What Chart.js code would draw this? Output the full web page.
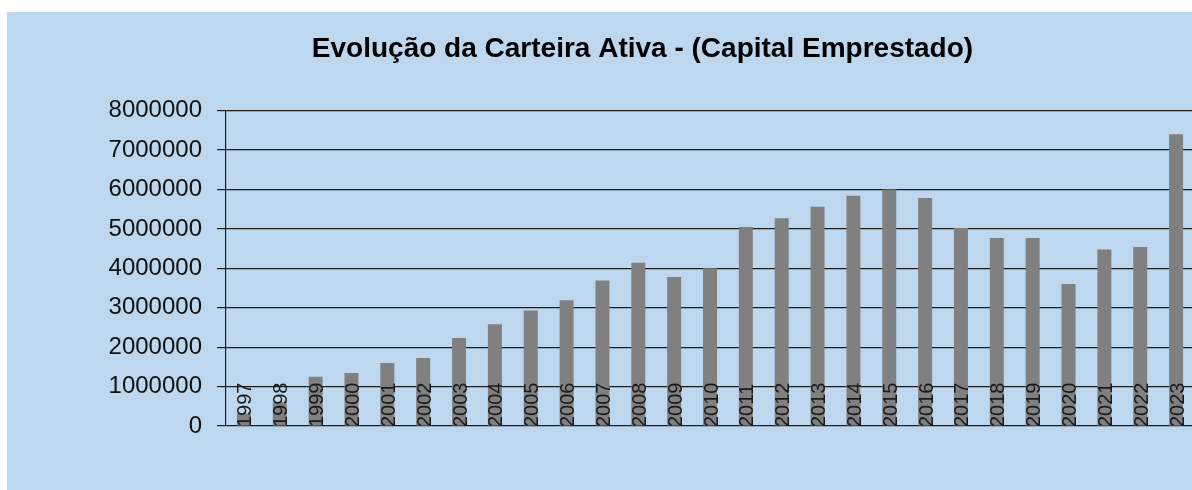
<!DOCTYPE html>
<html>
<head>
<meta charset="utf-8">
<title>Evolução da Carteira Ativa</title>
<script src="https://cdn.jsdelivr.net/npm/chart.js@4.4.1/dist/chart.umd.min.js"></script>
<style>
    html, body { margin: 0; padding: 0; background: #ffffff; overflow: hidden; }
    #wrap {
        position: absolute;
        left: 7px;
        top: 12px;
        width: 1195px;
        height: 478px;
        background: #bdd7ee;
    }
</style>
</head>
<body>
<div id="wrap"><canvas id="carteiraChart"></canvas></div>
<script>
// Data
const years = ['1997', '1998', '1999', '2000', '2001', '2002', '2003', '2004', '2005',
    '2006', '2007', '2008', '2009', '2010', '2011', '2012', '2013', '2014', '2015',
    '2016', '2017', '2018', '2019', '2020', '2021', '2022', '2023'];
const capitalEmprestado = [320000, 600000, 1250000, 1345000, 1600000, 1725000, 2230000,
    2580000, 2930000, 3190000, 3690000, 4140000, 3780000, 4000000, 5050000, 5270000,
    5560000, 5840000, 6000000, 5780000, 5020000, 4770000, 4770000, 3600000, 4480000,
    4540000, 7400000];
const yMin = 0;
const yMax = 8000000;
const yStep = 1000000;

const FONT = '"Liberation Sans", Arial, sans-serif';

// year labels are drawn vertically inside the plot, over the bars
const yearLabels = {
    id: 'yearLabels',
    afterDatasetsDraw(chart) {
        const { ctx, scales: { x, y } } = chart;
        ctx.save();
        ctx.font = '20px ' + FONT;
        ctx.fillStyle = '#1a1a1a';
        ctx.textAlign = 'left';
        ctx.textBaseline = 'middle';
        years.forEach((yr, i) => {
            ctx.save();
            ctx.translate(x.getPixelForValue(i) + 2, y.getPixelForValue(yMin) + 1);
            ctx.rotate(-Math.PI / 2);
            ctx.fillText(yr, 0, 0);
            ctx.restore();
        });
        ctx.restore();
    }
};

const ctx = document.getElementById('carteiraChart').getContext('2d');
new Chart(ctx, {
    type: 'bar',
    data: {
        labels: years,
        datasets: [{
            label: 'Capital Emprestado',
            data: capitalEmprestado,
            backgroundColor: '#808080',
            borderWidth: 0,
            barPercentage: 0.39,
            categoryPercentage: 1
        }]
    },
    options: {
        responsive: true,
        maintainAspectRatio: false,
        animation: false,
        layout: { padding: { left: 84, right: 8, top: 0, bottom: 64 } },
        plugins: {
            legend: { display: false },
            tooltip: { enabled: false },
            title: {
                display: true,
                text: 'Evolução da Carteira Ativa - (Capital Emprestado)',
                color: '#000000',
                font: { family: FONT, size: 28, weight: 'bold', lineHeight: 1.2 },
                padding: { top: 20, bottom: 45 }
            }
        },
        scales: {
            x: {
                grid: { display: false },
                border: { display: false },
                ticks: { display: false },
                afterFit: (scale) => { scale.height = 0; }
            },
            y: {
                min: yMin,
                max: yMax,
                grid: {
                    color: '#1c1c1c',
                    lineWidth: 1.2,
                    tickLength: 9,
                    drawTicks: true
                },
                border: { display: true, color: '#1c1c1c', width: 1.2 },
                ticks: {
                    stepSize: yStep,
                    padding: 15,
                    color: '#111111',
                    font: { family: FONT, size: 24 },
                    callback: (v) => String(v)
                },
                afterFit: (scale) => { scale.width = 135; }
            }
        }
    },
    plugins: [yearLabels]
});
</script>
</body>
</html>
